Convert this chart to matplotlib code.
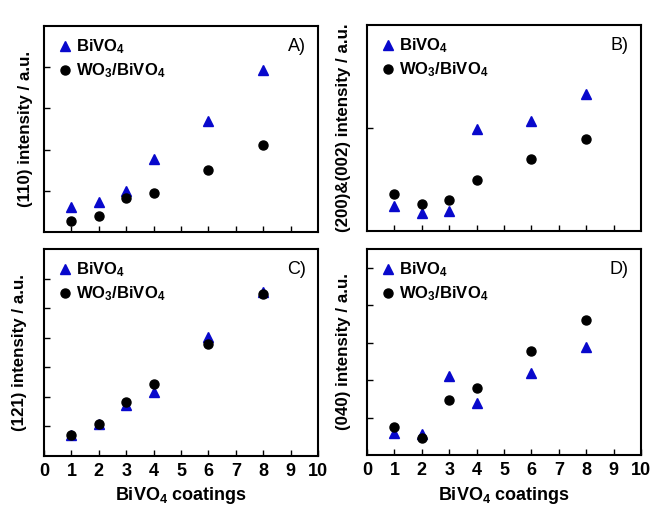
import numpy as np
import matplotlib
matplotlib.use("Agg")
import matplotlib.pyplot as plt

plt.rcParams['font.family'] = ['Liberation Sans', 'DejaVu Sans']
plt.rcParams['mathtext.fontset'] = 'custom'
plt.rcParams['mathtext.rm'] = 'Liberation Sans'
plt.rcParams['mathtext.bf'] = 'Liberation Sans:bold'
plt.rcParams['mathtext.default'] = 'bf'

coatings = [1, 2, 3, 4, 6, 8]

# panel A: (110)
a_bivo4 = [0.61, 0.73, 0.99, 1.77, 2.69, 3.94]
a_wo3 = [0.27, 0.39, 0.82, 0.95, 1.50, 2.10]
# panel B: (200)&(002)
b_bivo4 = [0.24, 0.17, 0.19, 0.99, 1.07, 1.33]
b_wo3 = [0.36, 0.26, 0.30, 0.50, 0.70, 0.89]
# panel C: (121)
c_bivo4 = [0.71, 1.08, 1.72, 2.16, 4.02, 5.54]
c_wo3 = [0.71, 1.07, 1.82, 2.43, 3.78, 5.47]
# panel D: (040)
d_bivo4 = [0.58, 0.56, 2.12, 1.40, 2.20, 2.89]
d_wo3 = [0.74, 0.45, 1.48, 1.80, 2.78, 3.60]

ylabels = ['(110) intensity / a.u.', '(200)&(002) intensity / a.u.',
           '(121) intensity / a.u.', '(040) intensity / a.u.']
panel_tags = ['A)', 'B)', 'C)', 'D)']
ylims = [5, 2, 7, 5.5]
yticks = [[1, 2, 3, 4], [1], [1, 2, 3, 4, 5, 6], [1, 2, 3, 4, 5]]
series = [(a_bivo4, a_wo3), (b_bivo4, b_wo3), (c_bivo4, c_wo3), (d_bivo4, d_wo3)]
xticklabels = [str(k) for k in range(0, 11)]

fig = plt.figure(figsize=(6.53, 5.12), dpi=100)
W, H = 653, 512
boxes = [(44, 26, 318, 232), (367, 25, 641, 231),
         (44, 249, 318, 456), (367, 249, 641, 455)]
label_x = [-0.040, -0.058, -0.062, -0.058]

for i, (x0, y0, x1, y1) in enumerate(boxes):
    ax = fig.add_axes([x0 / W, 1 - y1 / H, (x1 - x0) / W, (y1 - y0) / H])
    bv, wo = series[i]
    ax.plot(coatings, bv, linestyle='none', marker='^', color='#0808cc',
            markersize=6.5, label='BiVO$_4$')
    ax.plot(coatings, wo, linestyle='none', marker='o', color='black',
            markersize=6.5, label='WO$_3$/BiVO$_4$')
    ax.set_xlim(0, 10)
    ax.set_ylim(0, ylims[i])
    ax.set_yticks(yticks[i])
    ax.set_yticklabels([])
    ax.tick_params(direction='in', length=4, width=1, top=False, right=False)
    for s in ax.spines.values():
        s.set_linewidth(1.5)
    if i >= 2:
        ax.set_xticks(range(0, 11))
        ax.set_xticklabels(xticklabels, fontweight='bold', fontsize=13)
        ax.tick_params(axis='x', pad=5)
        ax.set_xlabel('BiVO$_4$ coatings', fontweight='bold', fontsize=13, labelpad=4)
    else:
        ax.set_xticks(range(1, 10))
        ax.set_xticklabels([])
    ax.set_ylabel(ylabels[i], fontweight='bold', fontsize=12.2)
    ax.yaxis.set_label_coords(label_x[i], 0.5)
    ax.legend(loc='upper left', frameon=False, handletextpad=0.1, labelspacing=0.3,
              borderaxespad=0.3, handlelength=1.1,
              prop={'weight': 'bold', 'size': 12})
    ax.text(0.955, 0.9, panel_tags[i], transform=ax.transAxes, ha='right',
            va='center', fontsize=13)

fig.savefig('out.png', dpi=100)
